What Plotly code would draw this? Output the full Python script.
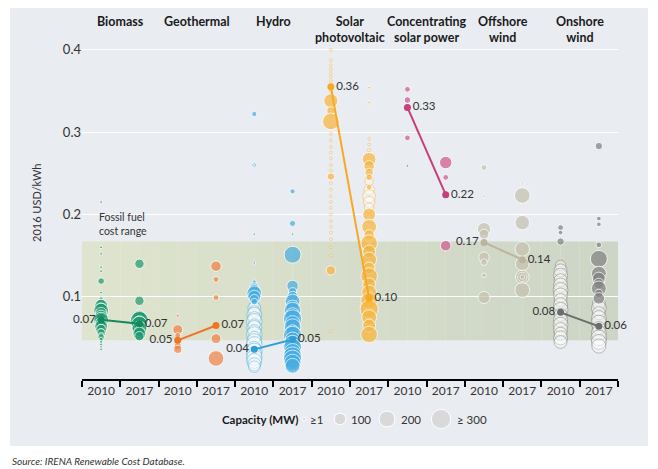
import plotly.graph_objects as go

# ---------------- data ----------------
technologies = ["Biomass", "Geothermal", "Hydro", "Solar<br>photovoltaic",
                "Concentrating<br>solar power", "Offshore<br>wind", "Onshore<br>wind"]
years = ["2010", "2017"]

# individual projects: LCOE (2016 USD/kWh) and capacity (MW)
bio10_lcoe = [0.215, 0.160, 0.152, 0.136, 0.131, 0.119, 0.105, 0.097, 0.092, 0.089, 0.086, 0.083,
              0.080, 0.078, 0.076, 0.074, 0.072, 0.070, 0.068, 0.066, 0.064, 0.062, 0.060, 0.058,
              0.056, 0.054, 0.051, 0.048, 0.045, 0.042, 0.039, 0.036]
bio10_mw = [1, 1, 1, 5, 3, 40, 5, 20, 60, 150, 100, 200, 120, 60, 150, 90, 200, 40, 120, 80, 150,
            50, 100, 30, 60, 20, 40, 15, 10, 8, 5, 5]
bio17_lcoe = [0.140, 0.095, 0.077, 0.074, 0.071, 0.069, 0.066, 0.064, 0.061, 0.058, 0.055, 0.052]
bio17_mw = [80, 80, 120, 200, 300, 150, 250, 100, 200, 100, 150, 80]

geo10_lcoe = [0.077, 0.060, 0.053, 0.047, 0.040, 0.036]
geo10_mw = [10, 90, 30, 20, 50, 60]
geo17_lcoe = [0.137, 0.121, 0.099, 0.049, 0.025]
geo17_mw = [100, 30, 30, 90, 220]

hyd10_lcoe = [0.322, 0.176, 0.141, 0.118, 0.112, 0.108, 0.104, 0.100, 0.097, 0.094]
hyd10_mw = [25, 2, 2, 15, 60, 120, 200, 150, 80, 40]
hyd10_small_lcoe = [0.260, 0.090, 0.086, 0.082, 0.078, 0.074, 0.070, 0.066, 0.062, 0.058, 0.054,
                    0.050, 0.046, 0.042, 0.038, 0.034, 0.030, 0.026, 0.022, 0.018, 0.015]
hyd10_small_mw = [1, 80, 150, 120, 200, 150, 220, 120, 200, 150, 220, 150, 200, 220, 150, 220,
                  200, 220, 200, 150, 120]
hyd17_lcoe = [0.228, 0.189, 0.176, 0.151, 0.113, 0.106, 0.100, 0.094, 0.088, 0.083, 0.078, 0.073,
              0.068, 0.063, 0.058, 0.053, 0.048, 0.043, 0.038, 0.033, 0.028, 0.024, 0.020, 0.016]
hyd17_mw = [25, 35, 3, 260, 120, 60, 100, 200, 150, 250, 180, 300, 200, 250, 150, 300, 200, 250,
            300, 250, 300, 300, 250, 200]
hyd17_small_lcoe = []
hyd17_small_mw = []

pv10_lcoe = [0.338, 0.326, 0.313, 0.246, 0.132]
pv10_mw = [180, 60, 250, 50, 80]
pv10_small_lcoe = [0.400, 0.387, 0.381, 0.376, 0.371, 0.367, 0.362, 0.350, 0.345, 0.320, 0.305,
                   0.298, 0.290, 0.282, 0.275, 0.268, 0.260, 0.253, 0.238, 0.230, 0.222, 0.215,
                   0.208, 0.200, 0.192, 0.185, 0.178, 0.170, 0.160, 0.150, 0.058]
pv10_small_mw = [1, 8, 5, 8, 5, 5, 5, 5, 10, 8, 5, 5, 5, 5, 5, 5, 5, 5, 5, 5, 5, 5, 5, 5, 5, 5, 5,
                 5, 5, 5, 1]
pv17_lcoe = [0.354, 0.336, 0.267, 0.259, 0.251, 0.245, 0.233, 0.200, 0.185, 0.175, 0.165, 0.155,
             0.145, 0.135, 0.125, 0.115, 0.105, 0.095, 0.085, 0.075, 0.065, 0.054]
pv17_mw = [8, 8, 170, 100, 60, 40, 30, 150, 200, 100, 250, 150, 200, 120, 250, 150, 200, 250, 300,
           200, 150, 250]
pv17_small_lcoe = [0.292, 0.285, 0.278, 0.240, 0.230, 0.222, 0.215, 0.208, 0.195, 0.170, 0.140,
                   0.110, 0.090, 0.080, 0.070, 0.060]
pv17_small_mw = [5, 5, 10, 60, 100, 150, 120, 80, 60, 100, 80, 100, 150, 200, 100, 80]

csp10_lcoe = [0.352, 0.339, 0.293, 0.259]
csp10_mw = [30, 40, 30, 1]
csp17_lcoe = [0.263, 0.245, 0.162]
csp17_mw = [140, 30, 100]

off10_lcoe = [0.257, 0.222, 0.182, 0.176, 0.148, 0.142, 0.126, 0.099]
off10_mw = [30, 2, 160, 90, 100, 40, 20, 130]
off17_lcoe = [0.237, 0.223, 0.190, 0.158, 0.140, 0.124, 0.124, 0.124, 0.108]
off17_mw = [2, 220, 190, 190, 170, 170, 80, 20, 200]

on10_lcoe = [0.184, 0.178, 0.167]
on10_mw = [30, 20, 50]
on10_small_lcoe = [0.138, 0.132, 0.126, 0.120, 0.114, 0.108, 0.102, 0.096, 0.090, 0.084, 0.078,
                   0.072, 0.066, 0.060, 0.055, 0.050, 0.045]
on10_small_mw = [100, 150, 180, 150, 180, 200, 180, 150, 180, 200, 150, 180, 200, 180, 150, 180, 150]
on17_lcoe = [0.283, 0.195, 0.188, 0.163, 0.146, 0.128, 0.122, 0.116, 0.110, 0.104, 0.098]
on17_mw = [50, 20, 20, 30, 260, 200, 150, 100, 200, 60, 120]
on17_small_lcoe = [0.092, 0.086, 0.080, 0.074, 0.068, 0.062, 0.056, 0.050, 0.045, 0.040]
on17_small_mw = [150, 200, 150, 200, 220, 150, 200, 220, 200, 180]

# capacity-weighted averages
avg_2010 = [0.072, 0.047, 0.036, 0.355, 0.330, 0.166, 0.081]
avg_2017 = [0.067, 0.065, 0.048, 0.098, 0.224, 0.145, 0.064]
avg_2010_labels = ["0.07", "0.05", "0.04", "0.36", "0.33", "0.17", "0.08"]
avg_2017_labels = ["0.07", "0.07", "0.05", "0.10", "0.22", "0.14", "0.06"]

fossil_low = 0.047
fossil_high = 0.167

y_ticks = [0.1, 0.2, 0.3, 0.4]
legend_mw = [1, 100, 200, 300]
legend_labels = ["≥1", "100", "200", "≥ 300"]

# ---------------- style ----------------
colors = ["#1f9a6e", "#ef8240", "#47ade2", "#f8b53c", "#d0588c", "#c5c1ad", "#818181"]
avg_colors = ["#138a5c", "#f07424", "#2f9fda", "#f7a921", "#c73f7a", "#bdb49f", "#6c6c6c"]
FONT = "Lato, Roboto, 'DejaVu Sans', sans-serif"
SIZEREF = 1.8
MINR = 1.4

groups = [
    [(bio10_lcoe, bio10_mw, [], []), (bio17_lcoe, bio17_mw, [], [])],
    [(geo10_lcoe, geo10_mw, [], []), (geo17_lcoe, geo17_mw, [], [])],
    [(hyd10_lcoe, hyd10_mw, hyd10_small_lcoe, hyd10_small_mw),
     (hyd17_lcoe, hyd17_mw, hyd17_small_lcoe, hyd17_small_mw)],
    [(pv10_lcoe, pv10_mw, pv10_small_lcoe, pv10_small_mw),
     (pv17_lcoe, pv17_mw, pv17_small_lcoe, pv17_small_mw)],
    [(csp10_lcoe, csp10_mw, [], []), (csp17_lcoe, csp17_mw, [], [])],
    [(off10_lcoe, off10_mw, [], []), (off17_lcoe, off17_mw, [], [])],
    [(on10_lcoe, on10_mw, on10_small_lcoe, on10_small_mw),
     (on17_lcoe, on17_mw, on17_small_lcoe, on17_small_mw)],
]

fig = go.Figure()

for t, pair in enumerate(groups):
    for yi, (vals, mw, pvals, pmw) in enumerate(pair):
        xpos = 2 * t + yi + 0.5
        if pvals:
            fig.add_trace(go.Scatter(
                x=[xpos] * len(pvals), y=pvals, mode="markers", hoverinfo="skip",
                marker=dict(size=pmw, sizemode="area", sizeref=SIZEREF, sizemin=MINR,
                            color="rgba(255,255,255,0.5)",
                            line=dict(color=colors[t], width=0.7)),
                showlegend=False))
        fig.add_trace(go.Scatter(
            x=[xpos] * len(vals), y=vals, mode="markers", hoverinfo="skip",
            marker=dict(size=mw, sizemode="area", sizeref=SIZEREF, sizemin=MINR,
                        color=colors[t], line=dict(color="white", width=1)),
            showlegend=False))

for t in range(len(technologies)):
    left10 = t not in (3, 4)
    fig.add_trace(go.Scatter(
        x=[2 * t + 0.5, 2 * t + 1.5], y=[avg_2010[t], avg_2017[t]],
        mode="lines+markers+text",
        line=dict(color=avg_colors[t], width=2),
        marker=dict(size=7, color=avg_colors[t]),
        text=[avg_2010_labels[t], avg_2017_labels[t]],
        textposition=["middle left" if left10 else "middle right", "middle right"],
        textfont=dict(family=FONT, size=11.5, color="#333333"),
        hoverinfo="skip", showlegend=False, cliponaxis=False))

# reference pixel frame: plot area x 82..618, y 37..379 (page has an 8px body margin)
PX0, PX1, PY0, PY1 = 82, 618, 37, 379
def px(xr):
    return (xr - PX0) / (PX1 - PX0)
def py(yr):
    return (PY1 - yr) / (PY1 - PY0)

shapes = []
# grey panel
shapes.append(dict(type="rect", xref="paper", yref="paper", x0=px(10), x1=px(648),
                   y0=py(446), y1=py(-10), fillcolor="#e9ecf1", line=dict(width=0), layer="below"))
# fossil fuel band with left-to-right gradient
n_steps = 28
c0 = (0xde, 0xe4, 0xcd)
c1 = (0xcd, 0xd5, 0xc6)
for i in range(n_steps):
    f = i / (n_steps - 1)
    c = tuple(round(c0[k] + (c1[k] - c0[k]) * f) for k in range(3))
    shapes.append(dict(type="rect", xref="x", yref="y",
                       x0=14 * i / n_steps, x1=14 * (i + 1) / n_steps,
                       y0=fossil_low, y1=fossil_high,
                       fillcolor="rgb(%d,%d,%d)" % c, line=dict(width=0), layer="below"))

# bubble-size legend (bottom)
leg_y = py(419)
leg_centers = [304, 340, 387, 441]
leg_text_x = [308, 349, 399, 455]
annotations = []
for mwv, cx, lab, tx in zip(legend_mw, leg_centers, legend_labels, leg_text_x):
    d = 2 * max((mwv / (2 * SIZEREF)) ** 0.5, MINR) + 1
    shapes.append(dict(type="circle", xref="paper", yref="paper",
                       xsizemode="pixel", ysizemode="pixel",
                       xanchor=px(cx), yanchor=leg_y,
                       x0=-d / 2, x1=d / 2, y0=-d / 2, y1=d / 2,
                       fillcolor="#d9d9d9", line=dict(color="white", width=1)))
    annotations.append(dict(xref="paper", yref="paper", x=px(tx), y=leg_y,
                            xanchor="left", yanchor="middle", text=lab, showarrow=False,
                            font=dict(family=FONT, size=11.5, color="#333333")))
annotations.append(dict(xref="paper", yref="paper", x=px(300), y=leg_y,
                        xanchor="right", yanchor="middle", text="<b>Capacity (MW)</b>",
                        showarrow=False, font=dict(family=FONT, size=11.5, color="#1a1a1a")))

# category titles
for t, name in enumerate(technologies):
    annotations.append(dict(xref="x", yref="paper", x=2 * t + 1, y=py(12),
                            xanchor="center", yanchor="top", text="<b>%s</b>" % name,
                            showarrow=False, align="center",
                            font=dict(family=FONT, size=12.5, color="#1a1a1a")))

annotations.append(dict(xref="paper", yref="y", x=px(97), y=fossil_high + 0.003,
                        xanchor="left", yanchor="bottom", text="Fossil fuel<br>cost range",
                        showarrow=False, align="left",
                        font=dict(family=FONT, size=10.5, color="#333333")))
annotations.append(dict(xref="paper", yref="paper", x=px(36), y=py(203),
                        xanchor="center", yanchor="middle", text="2016 USD/kWh",
                        textangle=-90, showarrow=False,
                        font=dict(family=FONT, size=11, color="#333333")))
annotations.append(dict(xref="paper", yref="paper", x=px(10), y=py(461),
                        xanchor="left", yanchor="middle",
                        text="<i>Source: IRENA Renewable Cost Database.</i>",
                        showarrow=False, font=dict(family=FONT, size=10, color="#333333")))

fig.update_layout(
    width=650, height=461,
    margin=dict(l=PX0 - 8, r=40, t=PY0 - 8, b=461 - (PY0 - 8) - (PY1 - PY0)),
    paper_bgcolor="white", plot_bgcolor="rgba(0,0,0,0)",
    shapes=shapes, annotations=annotations,
    font=dict(family=FONT, color="#333333"),
    xaxis=dict(range=[0, 14], tickvals=[i + 0.5 for i in range(14)],
               ticktext=[years[i % 2] for i in range(14)], ticks="",
               showgrid=False, zeroline=False, showline=True, linecolor="black", linewidth=1.5,
               tickfont=dict(family=FONT, size=12, color="#333333"),
               minor=dict(tickvals=list(range(15)), ticks="outside", ticklen=6,
                          tickcolor="black", tickwidth=1.5, showgrid=False)),
    yaxis=dict(range=[0, (PY1 - PY0) / 823], tickvals=y_ticks,
               ticktext=["0.1", "0.2", "0.3", "0.4"],
               showgrid=True, gridcolor="white", gridwidth=1, zeroline=False, showline=False,
               ticks="", tickfont=dict(family=FONT, size=13, color="#333333")),
)

fig.write_html("out.html")
